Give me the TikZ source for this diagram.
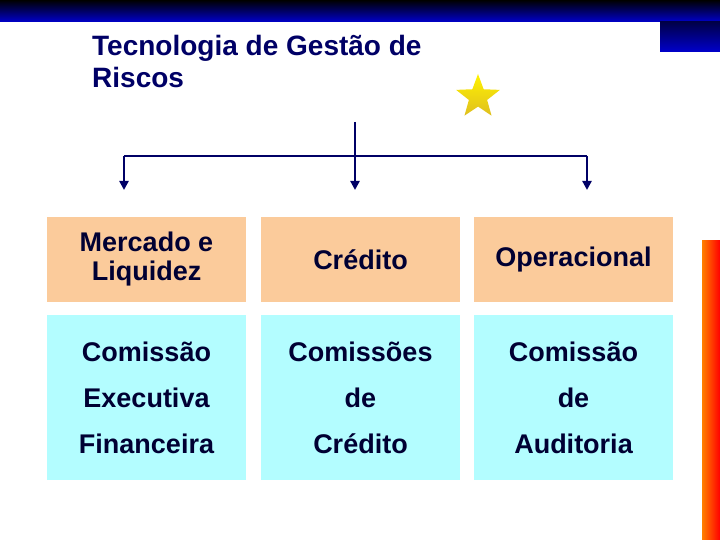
\documentclass[tikz,border=0pt]{standalone}
\usepackage{fontspec}
\setmainfont{Liberation Sans}
\usetikzlibrary{shapes.geometric,arrows.meta}
\definecolor{navy}{HTML}{000066}
\definecolor{txt}{HTML}{000033}
\definecolor{peach}{HTML}{FBCB9B}
\definecolor{cyanb}{HTML}{B3FDFF}
\tikzset{
  cell/.style={minimum width=199pt,align=center,font=\bfseries\fontsize{27}{29}\selectfont,text=txt,inner sep=0pt},
  row1/.style={cell,fill=peach,minimum height=85pt},
  row2/.style={cell,fill=cyanb,minimum height=165pt,font=\bfseries\fontsize{27}{46}\selectfont},
  link/.style={draw=navy,line width=2.8pt},
  arr/.style={link,-{Triangle[length=9pt,width=9pt]}}
}
\begin{document}
\begin{tikzpicture}[x=1pt,y=-1pt]
\useasboundingbox (0,0) rectangle (720,540);
\fill[white] (0,0) rectangle (720,540);
\shade[top color=black,bottom color=blue!80!black] (0,0) rectangle (720,22);
\shade[top color=navy!70!black,bottom color=blue!80!black] (660,22) rectangle (720,52);
\shade[left color=orange,right color=red] (702,240) rectangle (720,540);
\node[anchor=north west,align=left,text=navy,font=\bfseries\fontsize{28}{32}\selectfont,inner sep=0pt] (title) at (92,35) {Tecnologia de Gestão de\\Riscos};
\node[star,star points=5,star point ratio=2.4,minimum size=46pt,inner sep=0pt,top color=yellow!90!orange,bottom color=yellow!50!brown,draw=none] (star) at (478,97) {};
\coordinate (top) at (355,122);
\coordinate (hub) at (355,156);
\coordinate (l) at (124,156);
\coordinate (r) at (587,156);
\node[row1] (a1) at (146.5,259.5) {Mercado e\\Liquidez};
\node[row1] (a2) at (360.5,259.5) {Crédito};
\node[row1] (a3) at (573.5,259.5) {Operacional};
\node[row2] (b1) at (146.5,397.5) {Comissão\\Executiva\\Financeira};
\node[row2] (b2) at (360.5,397.5) {Comissões\\de\\Crédito};
\node[row2] (b3) at (573.5,397.5) {Comissão\\de\\Auditoria};
\draw[link] (top) -- (hub);
\draw[link] (l) -- (r);
\draw[arr] (l) -- (124,190);
\draw[arr] (hub) -- (355,190);
\draw[arr] (r) -- (587,190);
\end{tikzpicture}
\end{document}
